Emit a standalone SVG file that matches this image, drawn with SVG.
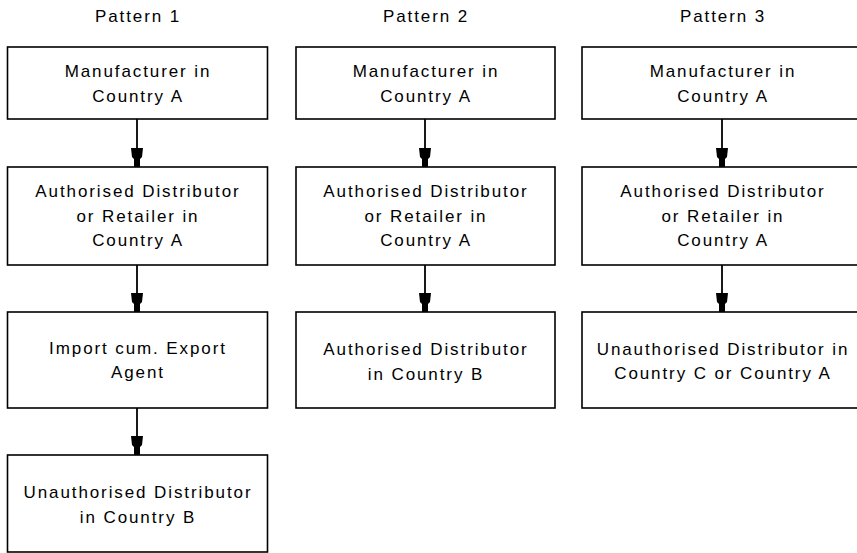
<svg xmlns="http://www.w3.org/2000/svg" width="857" height="553" viewBox="0 0 857 553">
<style>
  .box { fill: #fff; stroke: #000; stroke-width: 1.6; }
  .t { font-family: "Liberation Sans", Arial, sans-serif; font-size: 17px; letter-spacing: 1.9px; text-anchor: middle; fill: #000; }
  .c { stroke: #000; stroke-width: 1.8; fill: none; marker-end: url(#ah); }
</style>
<defs>
  <marker id="ah" markerUnits="userSpaceOnUse" viewBox="-20 -7 21 14" refX="0" refY="0" markerWidth="21" markerHeight="14" orient="auto">
    <path d="M-19,-6 L-19,6 L-10,5 L-8,3 L0,3 L0,-3 L-8,-3 L-10,-5 Z" fill="#000"/>
  </marker>
</defs>
<rect width="857" height="553" fill="#fff"/>

<g id="titles">
  <text class="t" x="138" y="22">Pattern 1</text>
  <text class="t" x="426" y="22">Pattern 2</text>
  <text class="t" x="723" y="22">Pattern 3</text>
</g>

<g id="connectors">
  <line class="c" x1="137" y1="119" x2="137" y2="167"/>
  <line class="c" x1="137" y1="265" x2="137" y2="312"/>
  <line class="c" x1="137" y1="408" x2="137" y2="455"/>
  <line class="c" x1="425" y1="119" x2="425" y2="167"/>
  <line class="c" x1="425" y1="265" x2="425" y2="312"/>
  <line class="c" x1="722" y1="119" x2="722" y2="167"/>
  <line class="c" x1="722" y1="265" x2="722" y2="312"/>
</g>

<g id="p1-manufacturer">
  <rect class="box" x="7.5" y="47" width="260" height="72"/>
  <text class="t" x="138" y="77">Manufacturer in</text>
  <text class="t" x="138" y="102">Country A</text>
</g>
<g id="p1-authorised">
  <rect class="box" x="7.5" y="167" width="260" height="98"/>
  <text class="t" x="138" y="197">Authorised Distributor</text>
  <text class="t" x="138" y="222">or Retailer in</text>
  <text class="t" x="138" y="246">Country A</text>
</g>
<g id="p1-agent">
  <rect class="box" x="7.5" y="312" width="260" height="96"/>
  <text class="t" x="138" y="354">Import cum. Export</text>
  <text class="t" x="138" y="378">Agent</text>
</g>
<g id="p1-unauthorised">
  <rect class="box" x="7.5" y="455" width="260" height="97"/>
  <text class="t" x="138" y="498">Unauthorised Distributor</text>
  <text class="t" x="138" y="523">in Country B</text>
</g>

<g id="p2-manufacturer">
  <rect class="box" x="296" y="47" width="259" height="72"/>
  <text class="t" x="426" y="77">Manufacturer in</text>
  <text class="t" x="426" y="102">Country A</text>
</g>
<g id="p2-authorised">
  <rect class="box" x="296" y="167" width="259" height="98"/>
  <text class="t" x="426" y="197">Authorised Distributor</text>
  <text class="t" x="426" y="222">or Retailer in</text>
  <text class="t" x="426" y="246">Country A</text>
</g>
<g id="p2-authorised-b">
  <rect class="box" x="296" y="312" width="259" height="96"/>
  <text class="t" x="426" y="355">Authorised Distributor</text>
  <text class="t" x="426" y="380">in Country B</text>
</g>

<g id="p3-manufacturer">
  <rect class="box" x="582" y="47" width="282" height="72"/>
  <text class="t" x="723" y="77">Manufacturer in</text>
  <text class="t" x="723" y="102">Country A</text>
</g>
<g id="p3-authorised">
  <rect class="box" x="582" y="167" width="282" height="98"/>
  <text class="t" x="723" y="197">Authorised Distributor</text>
  <text class="t" x="723" y="222">or Retailer in</text>
  <text class="t" x="723" y="246">Country A</text>
</g>
<g id="p3-unauthorised">
  <rect class="box" x="582" y="312" width="282" height="96"/>
  <text class="t" x="723" y="355">Unauthorised Distributor in</text>
  <text class="t" x="723" y="379">Country C or Country A</text>
</g>
</svg>
